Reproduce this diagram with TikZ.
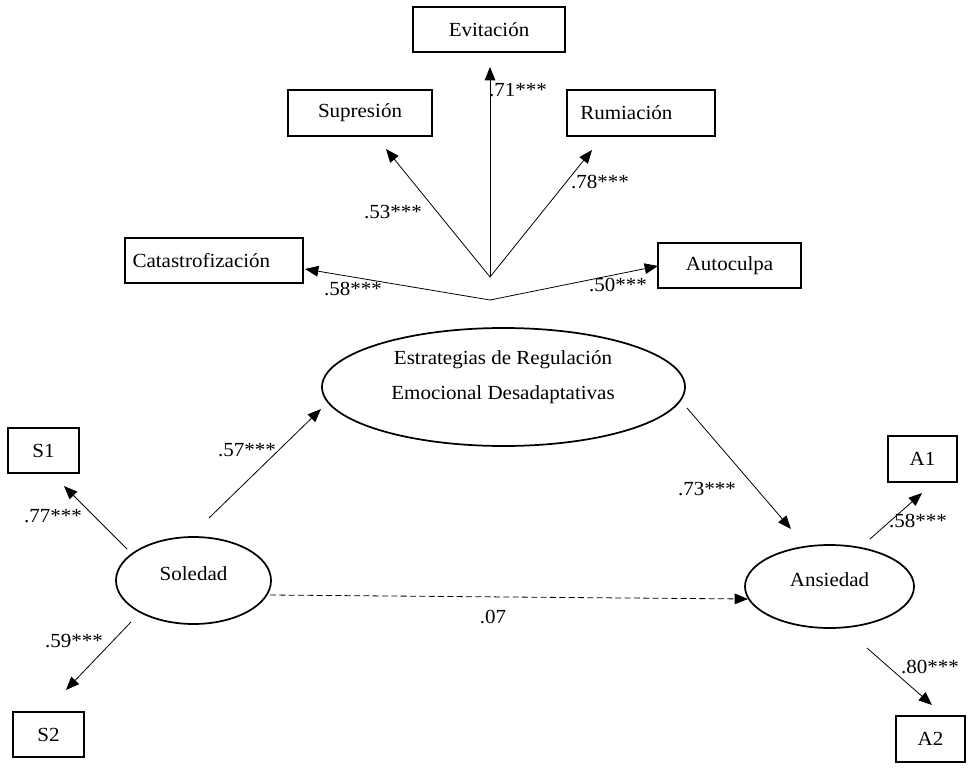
\documentclass[tikz,border=0pt]{standalone}
\usepackage{fontspec}
\setmainfont{Liberation Serif}[FakeStretch=1.05]
\usetikzlibrary{shapes.geometric,arrows.meta}
\tikzset{
  box/.style={draw, line width=1.3pt, rectangle, inner sep=0pt, font=\fontsize{15}{18}\selectfont},
  latent/.style={draw, line width=1.3pt, ellipse, inner sep=0pt},
  txt/.style={inner sep=0pt, font=\fontsize{15}{18}\selectfont},
  lbl/.style={inner sep=0pt, font=\fontsize{15}{18}\selectfont},
  path/.style={line width=0.6pt, -{Triangle[length=10pt,width=8pt]}},
  thin/.style={line width=0.6pt}
}
\begin{document}
\begin{tikzpicture}[x=0.75pt,y=-0.75pt]
\useasboundingbox (0,0) rectangle (971,771);
% indicator boxes
\node[box, minimum width=114pt, minimum height=33.75pt] (evit) at (489,29.5) {Evitación};
\node[box, minimum width=108pt, minimum height=34.5pt] (supr) at (360,113) {Supresión};
\node[box, minimum width=111pt, minimum height=34.5pt] (rumi) at (641,113) {Rumiación\kern22pt};
\node[box, minimum width=133.5pt, minimum height=33.75pt] (cata) at (214,260.5) {Catastrofización\kern19pt};
\node[box, minimum width=107.25pt, minimum height=33.75pt] (auto) at (729.5,265.5) {Autoculpa};
\node[box, minimum width=53.25pt, minimum height=33.75pt] (s1) at (43.5,450.5) {S1};
\node[box, minimum width=53.25pt, minimum height=33.75pt] (s2) at (48.5,734.5) {S2};
\node[box, minimum width=51.75pt, minimum height=34.5pt] (a1) at (922.5,459) {A1};
\node[box, minimum width=51.75pt, minimum height=34.5pt] (a2) at (930.5,739) {A2};
% latent variables
\node[latent, minimum width=272.25pt, minimum height=88.5pt] (ered) at (503.5,387) {};
\node[txt, align=center, font=\fontsize{15}{26.25}\selectfont] (eredtxt) at (503,377) {Estrategias de Regulación\\Emocional Desadaptativas};
\node[latent, minimum width=116.25pt, minimum height=65.25pt] (sole) at (193.5,580.5) {};
\node[txt] (soletxt) at (193.5,574) {Soledad};
\node[latent, minimum width=126.75pt, minimum height=62.25pt] (ansi) at (829.5,586.5) {};
\node[txt] (ansitxt) at (829.5,580) {Ansiedad};
% connector points
\coordinate (hub) at (490,277);
\coordinate (hubb) at (490,300);
\coordinate (tSupr) at (386,149);
\coordinate (tEvit) at (490,67);
\coordinate (tRumi) at (592,150);
\coordinate (tCata) at (305,269);
\coordinate (tAuto) at (658,266);
\coordinate (sEred) at (209,518);
\coordinate (tEred) at (321,409);
\coordinate (sS1) at (127,549);
\coordinate (tS1) at (64,486);
\coordinate (sS2) at (131,622);
\coordinate (tS2) at (66,690);
\coordinate (sAnsi) at (687,408);
\coordinate (tAnsi) at (791,529);
\coordinate (sA1) at (870,539);
\coordinate (tA1) at (922,493);
\coordinate (sA2) at (867,648);
\coordinate (tA2) at (932,705);
\coordinate (sDash) at (270,595);
\coordinate (tDash) at (748,599);
% connectors
\draw[path] (hub) -- (tSupr);
\draw[path] (hub) -- (tEvit);
\draw[path] (hub) -- (tRumi);
\draw[path] (hubb) -- (tCata);
\draw[path] (hubb) -- (tAuto);
\draw[path] (sEred) -- (tEred);
\draw[path] (sS1) -- (tS1);
\draw[path] (sS2) -- (tS2);
\draw[path] (sAnsi) -- (tAnsi);
\draw[path] (sA1) -- (tA1);
\draw[path] (sA2) -- (tA2);
\draw[path, dash pattern=on 4.5pt off 2.5pt] (sDash) -- (tDash);
% labels
\node[lbl] (l71) at (518,90) {.71***};
\node[lbl] (l53) at (393,212) {.53***};
\node[lbl] (l78) at (600,182) {.78***};
\node[lbl] (l58a) at (353,289) {.58***};
\node[lbl] (l50) at (618,285) {.50***};
\node[lbl] (l57) at (247,450) {.57***};
\node[lbl] (l77) at (53,516) {.77***};
\node[lbl] (l59) at (74,641) {.59***};
\node[lbl] (l73) at (707,489) {.73***};
\node[lbl] (l58b) at (918,521) {.58***};
\node[lbl] (l80) at (930,667) {.80***};
\node[lbl] (l07) at (493,617) {.07};
\end{tikzpicture}
\end{document}
